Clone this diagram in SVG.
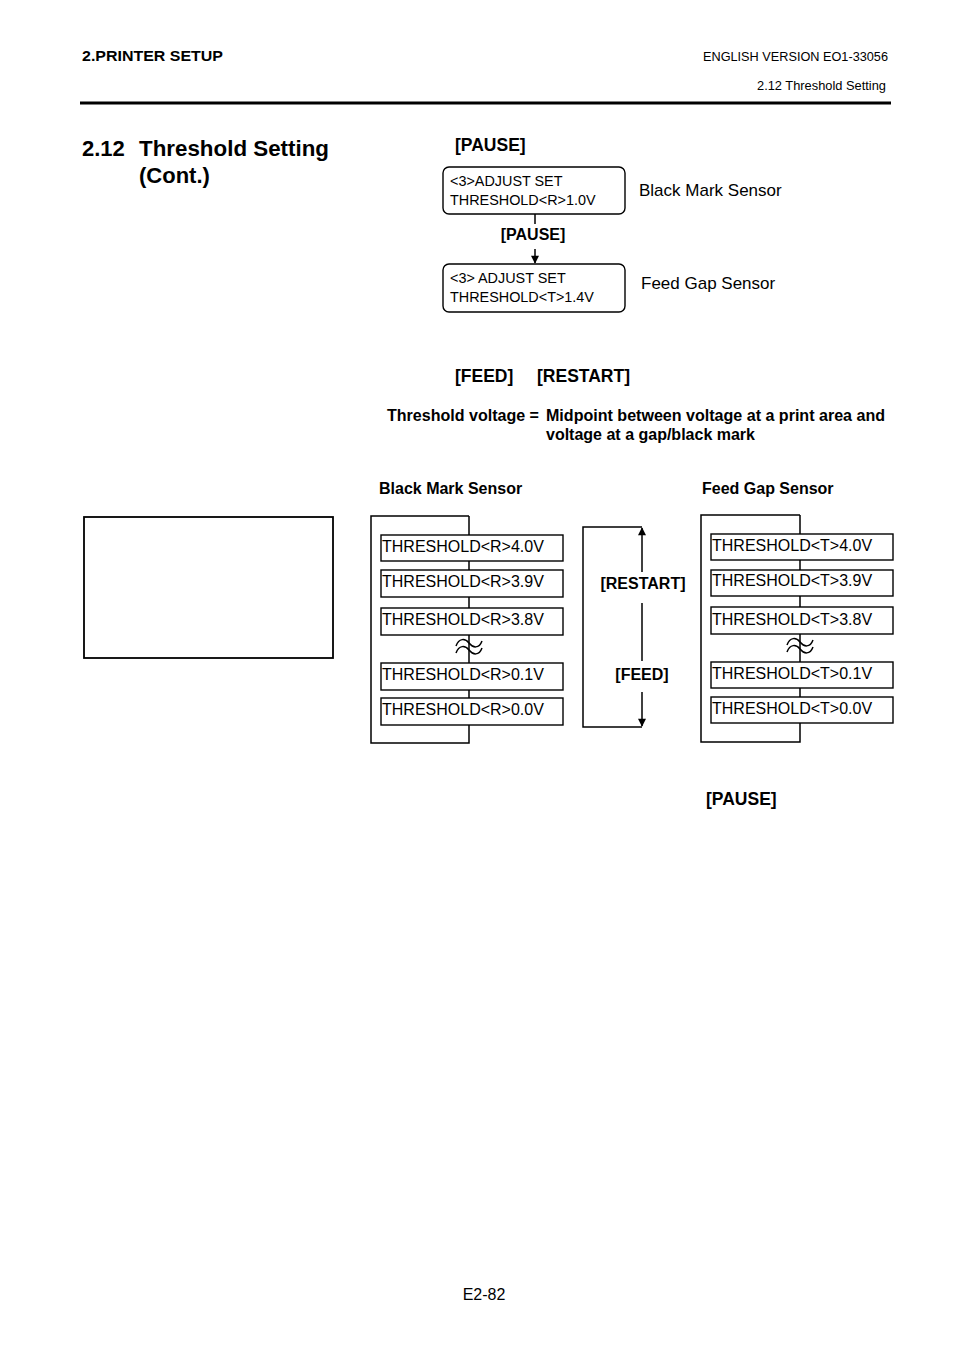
<svg xmlns="http://www.w3.org/2000/svg" width="954" height="1351" viewBox="0 0 954 1351">
<style>
text{font-family:"Liberation Sans",Arial,sans-serif;fill:#000}
.b{font-weight:bold}
.box{fill:#fff;stroke:#000;stroke-width:1.4}
.ln{fill:none;stroke:#000;stroke-width:1.5}
.t16{font-size:16px}
.t14{font-size:14.4px}
</style>
<defs>
<marker id="ah" viewBox="0 0 10 10" refX="9" refY="5" markerWidth="10" markerHeight="8" markerUnits="userSpaceOnUse" orient="auto">
<path d="M0,0 L10,5 L0,10 z" fill="#000"/>
</marker>
</defs>
<rect width="954" height="1351" fill="#fff"/>

<g id="header">
<text x="82" y="61" class="b" font-size="15" textLength="141" lengthAdjust="spacingAndGlyphs">2.PRINTER SETUP</text>
<text x="703" y="61" font-size="12.5" textLength="185" lengthAdjust="spacingAndGlyphs">ENGLISH VERSION EO1-33056</text>
<text x="757" y="90" font-size="12.5" textLength="129" lengthAdjust="spacingAndGlyphs">2.12 Threshold Setting</text>
<line x1="80" y1="103" x2="891" y2="103" stroke="#000" stroke-width="3"/>
<text x="82" y="156" class="b" font-size="22">2.12</text>
<text x="139" y="156" class="b" font-size="22" textLength="190" lengthAdjust="spacingAndGlyphs">Threshold Setting</text>
<text x="139" y="183" class="b" font-size="22">(Cont.)</text>
</g>

<g id="connectors">
<line class="ln" x1="535" y1="214" x2="535" y2="224"/>
<line class="ln" x1="535" y1="249" x2="535" y2="263" marker-end="url(#ah)"/>
<path class="ln" d="M469,516 H371 V743 H469 V516"/>
<path class="ln" d="M800,515 H701 V742 H800 V515"/>
<path class="ln" d="M642,527 H583 V727 H642"/>
<line class="ln" x1="642" y1="572" x2="642" y2="528" marker-end="url(#ah)"/>
<line class="ln" x1="642" y1="603" x2="642" y2="661"/>
<line class="ln" x1="642" y1="692" x2="642" y2="726" marker-end="url(#ah)"/>
</g>

<g id="pause-top"><text x="455" y="151" class="b" font-size="17.5">[PAUSE]</text></g>

<g id="node-bm">
<rect class="box" x="443" y="167" width="182" height="47" rx="6"/>
<text x="450" y="186" class="t14">&lt;3&gt;ADJUST SET</text>
<text x="450" y="205" class="t14">THRESHOLD&lt;R&gt;1.0V</text>
<text x="639" y="196" font-size="17">Black Mark Sensor</text>
</g>
<g id="pause-mid"><text x="533" y="240" class="b t16" text-anchor="middle">[PAUSE]</text></g>
<g id="node-fg">
<rect class="box" x="443" y="264" width="182" height="48" rx="6"/>
<text x="450" y="283" class="t14">&lt;3&gt; ADJUST SET</text>
<text x="450" y="302" class="t14">THRESHOLD&lt;T&gt;1.4V</text>
<text x="641" y="289" font-size="17">Feed Gap Sensor</text>
</g>

<g id="keys">
<text x="455" y="382" class="b" font-size="17.5">[FEED]</text>
<text x="537" y="382" class="b" font-size="17.5">[RESTART]</text>
<text x="387" y="421" class="b t16" textLength="152" lengthAdjust="spacingAndGlyphs">Threshold voltage =</text>
<text x="546" y="421" class="b t16" textLength="339" lengthAdjust="spacingAndGlyphs">Midpoint between voltage at a print area and</text>
<text x="546" y="440" class="b t16">voltage at a gap/black mark</text>
<text x="379" y="494" class="b t16">Black Mark Sensor</text>
<text x="702" y="494" class="b t16">Feed Gap Sensor</text>
</g>

<g id="blank-box"><rect x="84" y="517" width="249" height="141" fill="#fff" stroke="#000" stroke-width="1.8"/></g>

<g id="bm-list">
<rect class="box" x="381" y="535" width="182" height="26"/>
<text x="382" y="552" class="t16">THRESHOLD&lt;R&gt;4.0V</text>
<rect class="box" x="381" y="570" width="182" height="27"/>
<text x="382" y="587" class="t16">THRESHOLD&lt;R&gt;3.9V</text>
<rect class="box" x="381" y="608" width="182" height="27"/>
<text x="382" y="625" class="t16">THRESHOLD&lt;R&gt;3.8V</text>
<path class="ln" stroke-width="1.3" d="M456,646 C459,638 465,638 469,643 S479,649 482,641 M456,653 C459,645 465,645 469,650 S479,656 482,648"/>
<rect class="box" x="381" y="663" width="182" height="27"/>
<text x="382" y="680" class="t16">THRESHOLD&lt;R&gt;0.1V</text>
<rect class="box" x="381" y="698" width="182" height="27"/>
<text x="382" y="715" class="t16">THRESHOLD&lt;R&gt;0.0V</text>
</g>

<g id="keys-mid">
<text x="643" y="589" class="b t16" text-anchor="middle">[RESTART]</text>
<text x="642" y="680" class="b t16" text-anchor="middle">[FEED]</text>
</g>

<g id="fg-list">
<rect class="box" x="711" y="534" width="182" height="26"/>
<text x="712" y="551" class="t16">THRESHOLD&lt;T&gt;4.0V</text>
<rect class="box" x="711" y="570" width="182" height="26"/>
<text x="712" y="586" class="t16">THRESHOLD&lt;T&gt;3.9V</text>
<rect class="box" x="711" y="607" width="182" height="27"/>
<text x="712" y="625" class="t16">THRESHOLD&lt;T&gt;3.8V</text>
<path class="ln" stroke-width="1.3" d="M787,645 C790,637 796,637 800,642 S810,648 813,640 M787,652 C790,644 796,644 800,649 S810,655 813,647"/>
<rect class="box" x="711" y="662" width="182" height="26"/>
<text x="712" y="679" class="t16">THRESHOLD&lt;T&gt;0.1V</text>
<rect class="box" x="711" y="697" width="182" height="26"/>
<text x="712" y="714" class="t16">THRESHOLD&lt;T&gt;0.0V</text>
</g>

<g id="pause-bottom"><text x="706" y="805" class="b" font-size="17.5">[PAUSE]</text></g>
<g id="footer"><text x="484" y="1300" class="t16" text-anchor="middle">E2-82</text></g>
</svg>
